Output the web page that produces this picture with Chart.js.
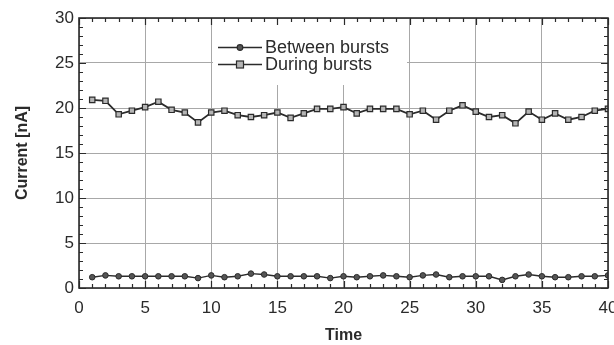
<!DOCTYPE html>
<html>
<head>
<meta charset="utf-8">
<script src="https://cdn.jsdelivr.net/npm/chart.js@4/dist/chart.umd.min.js"></script>
<style>
  html, body { margin: 0; padding: 0; background: #fff; }
  #wrap { width: 614px; height: 345px; position: relative; }
</style>
</head>
<body>
<div id="wrap"><canvas id="burstChart"></canvas></div>
<script>
// Data
var times = [1, 2, 3, 4, 5, 6, 7, 8, 9, 10, 11, 12, 13, 14, 15, 16, 17, 18, 19, 20,
             21, 22, 23, 24, 25, 26, 27, 28, 29, 30, 31, 32, 33, 34, 35, 36, 37, 38, 39, 40];
var betweenBursts = [1.2, 1.4, 1.3, 1.3, 1.3, 1.3, 1.3, 1.3, 1.1, 1.4, 1.2, 1.3, 1.6, 1.5, 1.3, 1.3, 1.3, 1.3, 1.1, 1.3,
                     1.2, 1.3, 1.4, 1.3, 1.2, 1.4, 1.5, 1.2, 1.3, 1.3, 1.3, 0.9, 1.3, 1.5, 1.3, 1.2, 1.2, 1.3, 1.3, 1.4];
var duringBursts = [20.9, 20.8, 19.3, 19.7, 20.1, 20.7, 19.8, 19.5, 18.4, 19.5, 19.7, 19.2, 19.0, 19.2, 19.5, 18.9, 19.4, 19.9, 19.9, 20.1,
                    19.4, 19.9, 19.9, 19.9, 19.3, 19.7, 18.7, 19.7, 20.3, 19.6, 19.0, 19.2, 18.3, 19.6, 18.7, 19.4, 18.7, 19.0, 19.7, 19.9];
var seriesNames = ['Between bursts', 'During bursts'];
var xTicks = [0, 5, 10, 15, 20, 25, 30, 35, 40];
var yTicks = [0, 5, 10, 15, 20, 25, 30];

function toPoints(ys) {
  return times.map(function(t, i) { return { x: t, y: ys[i] }; });
}

var FONT = '"Liberation Sans", Arial, sans-serif';
var INK = '#2b2b2b';

// Inward ticks on all four sides, plus the frame
var frameTicks = {
  id: 'frameTicks',
  afterDraw: function(chart) {
    var c = chart.ctx, a = chart.chartArea;
    var xs = chart.scales.x, ys = chart.scales.y;
    c.save();
    c.strokeStyle = INK;
    c.lineWidth = 1.2;
    for (var v = 0; v <= 40; v++) {
      var px = Math.round(xs.getPixelForValue(v)) + 0.5;
      var len = (v % 5 === 0) ? 7 : 4;
      c.beginPath();
      c.moveTo(px, a.bottom); c.lineTo(px, a.bottom - len);
      c.moveTo(px, a.top); c.lineTo(px, a.top + len);
      c.stroke();
    }
    for (var w = 0; w <= 30; w++) {
      var py = Math.round(ys.getPixelForValue(w)) + 0.5;
      var l2 = (w % 5 === 0) ? 7 : 4;
      c.beginPath();
      c.moveTo(a.left, py); c.lineTo(a.left + l2, py);
      c.moveTo(a.right, py); c.lineTo(a.right - l2, py);
      c.stroke();
    }
    c.lineWidth = 1.6;
    c.strokeRect(a.left, a.top, a.right - a.left, a.bottom - a.top);
    c.restore();
  }
};

// Legend sitting inside the plot on a white patch
var innerLegend = {
  id: 'innerLegend',
  beforeDatasetsDraw: function(chart) {
    var c = chart.ctx, a = chart.chartArea;
    c.save();
    c.fillStyle = '#fff';
    c.fillRect(213, a.top + 1, 194, 66);
    c.restore();
  },
  afterDraw: function(chart) {
    var c = chart.ctx;
    var rows = [47, 64];
    c.save();
    c.font = '18px ' + FONT;
    c.textBaseline = 'middle';
    for (var i = 0; i < 2; i++) {
      var y = rows[i] + 0.5;
      var ds = chart.data.datasets[i];
      c.strokeStyle = INK;
      c.lineWidth = 1.6;
      c.beginPath(); c.moveTo(218, y); c.lineTo(262, y); c.stroke();
      c.fillStyle = ds.pointBackgroundColor;
      c.strokeStyle = ds.pointBorderColor;
      c.lineWidth = 1.2;
      if (i === 0) {
        c.beginPath(); c.arc(240, y, 2.8, 0, Math.PI * 2); c.fill(); c.stroke();
      } else {
        c.fillRect(236.5, y - 3.5, 7, 7); c.strokeRect(236.5, y - 3.5, 7, 7);
      }
      c.fillStyle = INK;
      c.fillText(seriesNames[i], 265, rows[i] + 1);
    }
    c.restore();
  }
};

var ctx = document.getElementById('burstChart').getContext('2d');
var burstChart = new Chart(ctx, {
  type: 'line',
  data: {
    datasets: [
      {
        label: seriesNames[0],
        data: toPoints(betweenBursts),
        borderColor: INK,
        borderWidth: 1.4,
        pointStyle: 'circle',
        pointRadius: 2.8,
        pointBackgroundColor: '#555',
        pointBorderColor: INK,
        pointBorderWidth: 1,
        tension: 0
      },
      {
        label: seriesNames[1],
        data: toPoints(duringBursts),
        borderColor: INK,
        borderWidth: 1.8,
        pointStyle: 'rect',
        pointRadius: 3.8,
        pointBackgroundColor: '#b5b5b5',
        pointBorderColor: INK,
        pointBorderWidth: 1.2,
        tension: 0
      }
    ]
  },
  options: {
    responsive: true,
    maintainAspectRatio: false,
    animation: false,
    layout: { padding: { top: 18, right: 6, left: 0, bottom: 0 } },
    plugins: {
      legend: { display: false },
      tooltip: { enabled: false }
    },
    scales: {
      x: {
        type: 'linear',
        min: 0,
        max: 40,
        afterBuildTicks: function(s) { s.ticks = xTicks.map(function(v) { return { value: v }; }); },
        afterFit: function(s) { s.height = 57; s.paddingLeft = 0; s.paddingRight = 0; },
        grid: { color: '#a8a8a8', lineWidth: 1, drawTicks: false },
        border: { display: false },
        ticks: { padding: 10, color: INK, font: { family: FONT, size: 17 } },
        title: {
          display: true,
          text: 'Time',
          color: INK,
          font: { family: FONT, size: 16, weight: 'bold' },
          padding: { top: 0, bottom: 0 }
        }
      },
      y: {
        min: 0,
        max: 30,
        afterBuildTicks: function(s) { s.ticks = yTicks.map(function(v) { return { value: v }; }); },
        afterFit: function(s) { s.width = 79; s.paddingTop = 0; s.paddingBottom = 0; },
        grid: { color: '#a8a8a8', lineWidth: 1, drawTicks: false },
        border: { display: false },
        ticks: { padding: 5, color: INK, font: { family: FONT, size: 17 } },
        title: {
          display: true,
          text: 'Current [nA]',
          color: INK,
          font: { family: FONT, size: 16, weight: 'bold' },
          padding: { top: 13, bottom: 0 }
        }
      }
    }
  },
  plugins: [innerLegend, frameTicks]
});
</script>
</body>
</html>
